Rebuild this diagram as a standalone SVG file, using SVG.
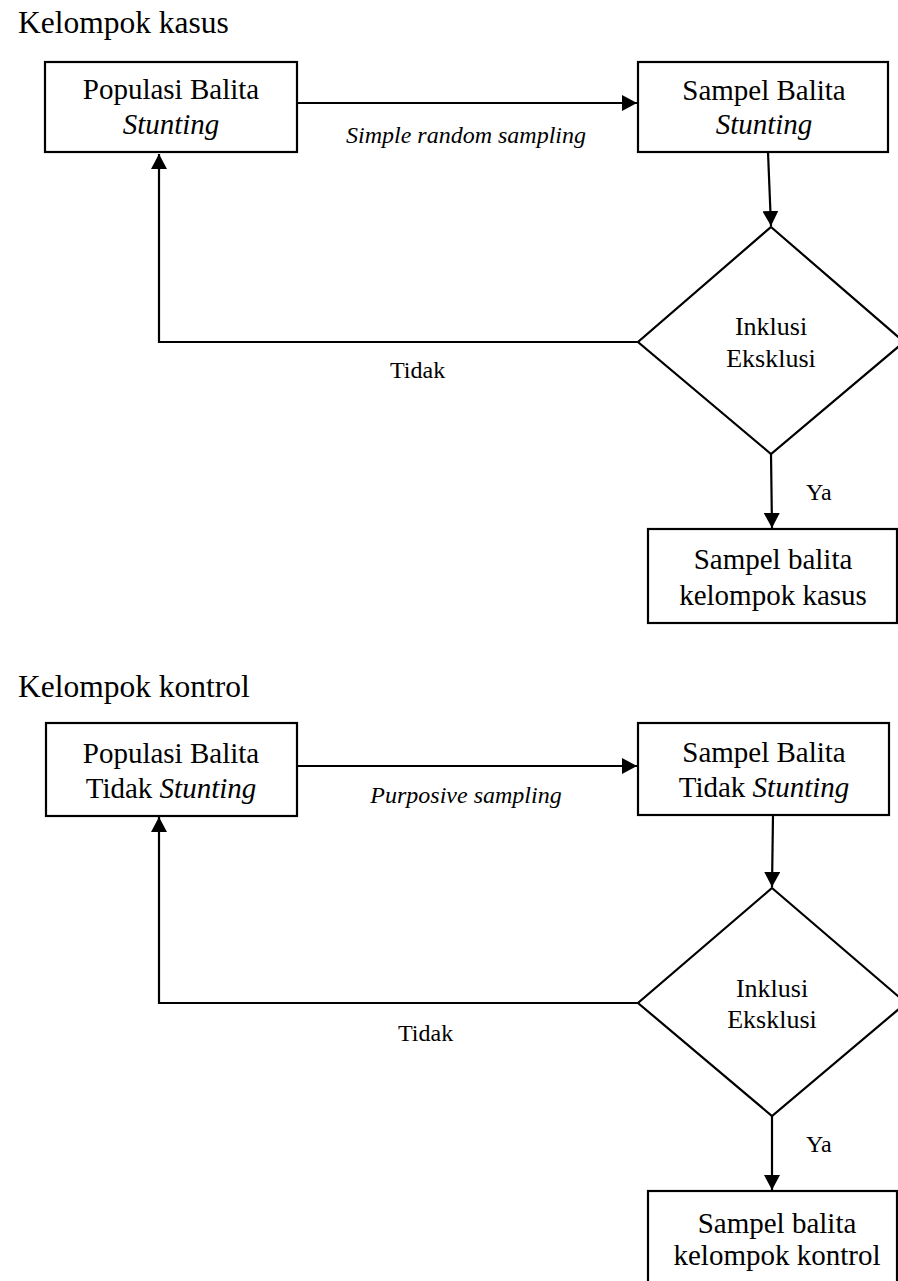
<svg xmlns="http://www.w3.org/2000/svg" width="898" height="1281" viewBox="0 0 898 1281">
<style>
text{font-family:"Liberation Serif","Times New Roman",serif;fill:#000}
.t{font-size:31.5px}
.b{font-size:29px;text-anchor:middle}
.d{font-size:26px;text-anchor:middle}
.l{font-size:24px}
.i{font-style:italic}
.shape{fill:#fff;stroke:#000;stroke-width:2.2}
.c{fill:none;stroke:#000;stroke-width:2.2}
</style>
<defs>
<marker id="ah" markerUnits="userSpaceOnUse" viewBox="0 0 15 16" refX="15" refY="8" markerWidth="15" markerHeight="16" orient="auto">
<path d="M0,0 L15,8 L0,16 Z" fill="#000"/>
</marker>
</defs>
<text class="t" x="18" y="33">Kelompok kasus</text>
<text class="t" x="18" y="697">Kelompok kontrol</text>
<g id="connectors">
<path class="c" d="M297,103 H637" marker-end="url(#ah)"/>
<path class="c" d="M768,152 L771,226" marker-end="url(#ah)"/>
<path class="c" d="M638,342 H159 V154" marker-end="url(#ah)"/>
<path class="c" d="M771,454 L772,528" marker-end="url(#ah)"/>
<path class="c" d="M297,766 H637" marker-end="url(#ah)"/>
<path class="c" d="M773,815 L772,887" marker-end="url(#ah)"/>
<path class="c" d="M638,1003 H159 V817" marker-end="url(#ah)"/>
<path class="c" d="M772,1116 L772,1190" marker-end="url(#ah)"/>
<text class="l i" x="466" y="143" text-anchor="middle">Simple random sampling</text>
<text class="l" x="390" y="378">Tidak</text>
<text class="l" x="806" y="500">Ya</text>
<text class="l i" x="466" y="803" text-anchor="middle">Purposive sampling</text>
<text class="l" x="398" y="1041">Tidak</text>
<text class="l" x="806" y="1152">Ya</text>
</g>
<g id="pop1">
<rect class="shape" x="45" y="62" width="252" height="90"/>
<text class="b" x="171" y="99">Populasi Balita</text>
<text class="b i" x="171" y="134">Stunting</text>
</g>
<g id="sampel1">
<rect class="shape" x="638" y="62" width="250" height="90"/>
<text class="b" x="764" y="100">Sampel Balita</text>
<text class="b i" x="764" y="134">Stunting</text>
</g>
<g id="decision1">
<path class="shape" d="M771,227 L904,342 L771,454 L638,342 Z"/>
<text class="d" x="771" y="335">Inklusi</text>
<text class="d" x="771" y="367">Eksklusi</text>
</g>
<g id="kasus">
<rect class="shape" x="648" y="529" width="249" height="94"/>
<text class="b" x="773" y="569">Sampel balita</text>
<text class="b" x="773" y="605">kelompok kasus</text>
</g>
<g id="pop2">
<rect class="shape" x="46" y="723" width="251" height="93"/>
<text class="b" x="171" y="763">Populasi Balita</text>
<text class="b" x="171" y="798">Tidak <tspan class="i">Stunting</tspan></text>
</g>
<g id="sampel2">
<rect class="shape" x="638" y="723" width="251" height="92"/>
<text class="b" x="764" y="762">Sampel Balita</text>
<text class="b" x="764" y="797">Tidak <tspan class="i">Stunting</tspan></text>
</g>
<g id="decision2">
<path class="shape" d="M772,888 L906,1003 L772,1116 L638,1003 Z"/>
<text class="d" x="772" y="997">Inklusi</text>
<text class="d" x="772" y="1028">Eksklusi</text>
</g>
<g id="kontrol">
<rect class="shape" x="648" y="1191" width="249" height="100"/>
<text class="b" x="777" y="1233">Sampel balita</text>
<text class="b" x="777" y="1265">kelompok kontrol</text>
</g>
</svg>
